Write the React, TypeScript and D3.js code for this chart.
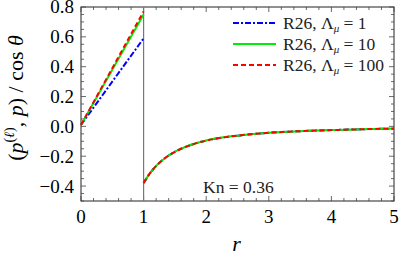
import React from "react";
import * as d3 from "d3";

// inner region r < 1 (linear), values at r = 0 and r = 1
const innerR = [0, 1];
const innerBlue = [0.01, 0.59];
const innerGreen = [0.01, 0.75];
const innerRed = [0.01, 0.77];

// outer region r > 1 (all three curves nearly coincide)
const outerR = [1, 1.1, 1.2, 1.35, 1.5, 1.75, 2, 2.5, 3, 3.5, 4, 4.5, 5];
const outerP = [-0.38, -0.315, -0.265, -0.21, -0.17, -0.125, -0.095, -0.062, -0.043, -0.032, -0.025, -0.019, -0.015];

const legendLabels = ["1", "10", "100"];
const xTicks = [0, 1, 2, 3, 4, 5];
const yTicks = [-0.4, -0.2, 0, 0.2, 0.4, 0.6, 0.8];

const width = 399;
const height = 257;
const margin = { top: 7, right: 5, bottom: 56, left: 81 };
const serif = "Liberation Serif";

const x = d3.scaleLinear().domain([0, 5]).range([margin.left, width - margin.right]);
const y = d3.scaleLinear().domain([-0.5, 0.8]).range([height - margin.bottom, margin.top]);

const line = d3
  .line<[number, number]>()
  .x((d) => x(d[0]))
  .y((d) => y(d[1]))
  .curve(d3.curveMonotoneX);

const series = [
  { inner: innerBlue, color: "#0000ff", dash: "6,2,2,2" },
  { inner: innerGreen, color: "#00ee00", dash: undefined },
  { inner: innerRed, color: "#ff0000", dash: "5,3" },
];

const isMajor = (v: number, list: number[]) => list.some((t) => Math.abs(t - v) < 1e-6);
const xMinor = d3.range(0, 5.001, 0.2);
const yMinor = d3.range(-0.5, 0.801, 0.05);

const App = () => {
  const outPts = outerR.map((r, i) => [r, outerP[i]] as [number, number]);
  return (
    <svg width={width} height={height} style={{ position: "absolute", left: 0, top: 0 }} fontFamily={serif}>
      <rect
        x={x(0)}
        y={y(0.8)}
        width={x(5) - x(0)}
        height={y(-0.5) - y(0.8)}
        fill="none"
        stroke="#222"
        strokeWidth={1}
      />
      <g stroke="#444" strokeWidth={0.8}>
        {xMinor.map((v, i) => {
          const len = isMajor(v, xTicks) ? 5 : 3;
          return (
            <g key={"xt" + i}>
              <line x1={x(v)} x2={x(v)} y1={y(-0.5)} y2={y(-0.5) - len} />
              <line x1={x(v)} x2={x(v)} y1={y(0.8)} y2={y(0.8) + len} />
            </g>
          );
        })}
        {yMinor.map((v, i) => {
          const len = isMajor(v, yTicks) ? 5 : 3;
          return (
            <g key={"yt" + i}>
              <line y1={y(v)} y2={y(v)} x1={x(0)} x2={x(0) + len} />
              <line y1={y(v)} y2={y(v)} x1={x(5)} x2={x(5) - len} />
            </g>
          );
        })}
      </g>
      {xTicks.map((d) => (
        <text key={"xl" + d} x={x(d)} y={y(-0.5) + 22} textAnchor="middle" fontFamily={serif} fontSize={19}>
          {d3.format("d")(d)}
        </text>
      ))}
      {yTicks.map((d) => (
        <text key={"yl" + d} x={x(0) - 7} y={y(d)} dy="0.34em" textAnchor="end" fontFamily={serif} fontSize={19}>
          {d3.format(".1f")(d).replace("-", "\u2212")}
        </text>
      ))}
      <line x1={x(1)} x2={x(1)} y1={y(0.8)} y2={y(-0.5)} stroke="#777" strokeWidth={1.2} />
      {series.map((s, k) => {
        const inPts = innerR.map((r, i) => [r, s.inner[i]] as [number, number]);
        return (
          <g key={"s" + k} fill="none" stroke={s.color} strokeWidth={2} strokeDasharray={s.dash}>
            <path d={line(inPts) || ""} />
            <path d={line(outPts) || ""} />
          </g>
        );
      })}
      {series.map((s, i) => {
        const ly = 23 + i * 21;
        return (
          <g key={"lg" + i}>
            <line x1={233} x2={276} y1={ly} y2={ly} stroke={s.color} strokeWidth={2} strokeDasharray={s.dash} />
            <text x={283} y={ly} dy="0.34em" fontFamily={serif} fontSize={17.5} fill="#222">
              <tspan>R26, {"\u039B"}</tspan>
              <tspan fontSize={11} fontStyle="italic" dy={3}>
                {"\u03BC"}
              </tspan>
              <tspan dy={-3}>{` = ${legendLabels[i]}`}</tspan>
            </text>
          </g>
        );
      })}
      <text x={203} y={193} fontFamily={serif} fontSize={17.5} fill="#222">
        Kn = 0.36
      </text>
      <text x={x(2.5) - 1} y={251} textAnchor="middle" fontFamily={serif} fontStyle="italic" fontSize={22}>
        r
      </text>
      <text transform={`translate(23, 98) rotate(-90)`} textAnchor="middle" fontFamily={serif} fontSize={22}>
        <tspan>(</tspan>
        <tspan fontStyle="italic">p</tspan>
        <tspan fontSize={14} dy={-9}>
          (
        </tspan>
        <tspan fontSize={14} fontStyle="italic">
          {"\u2113"}
        </tspan>
        <tspan fontSize={14}>)</tspan>
        <tspan dy={9}>, </tspan>
        <tspan fontStyle="italic">p</tspan>
        <tspan>) / cos </tspan>
        <tspan fontStyle="italic">{"\u03B8"}</tspan>
      </text>
    </svg>
  );
};

export default App;
